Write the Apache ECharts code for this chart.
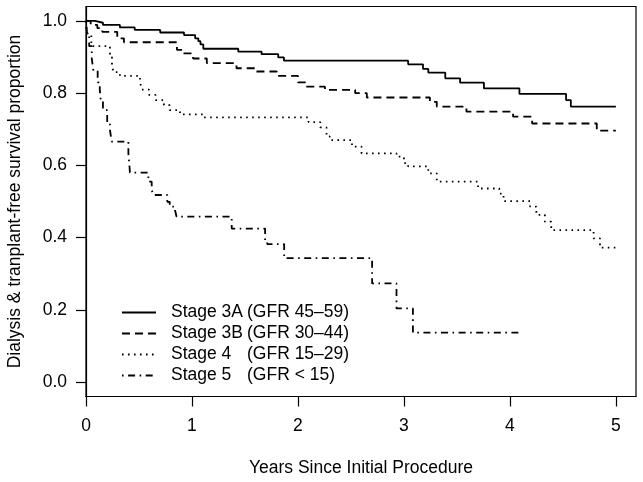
<!DOCTYPE html>
<html>
<head>
<meta charset="utf-8">
<script src="https://cdn.jsdelivr.net/npm/echarts@6/dist/echarts.min.js"></script>
<style>
  html, body { margin: 0; padding: 0; background: #fff; }
  #chart { width: 643px; height: 482px; }
</style>
</head>
<body>
<div id="chart"></div>
<script>
// survival curves: [years, proportion]
const stage3A = [[0,1],[0.085,0.995],[0.16,0.989],[0.32,0.982],[0.46,0.975],[0.70,0.968],[0.925,0.961],[1.03,0.952],[1.06,0.944],[1.08,0.935],[1.107,0.923],[1.437,0.915],[1.657,0.908],[1.814,0.899],[1.868,0.89],[3.04,0.88],[3.18,0.867],[3.23,0.857],[3.39,0.841],[3.53,0.829],[3.755,0.813],[4.09,0.798],[4.53,0.781],[4.575,0.763],[5.0,0.763]];
const stage3B = [[0,1],[0.044,0.989],[0.107,0.98],[0.154,0.97],[0.295,0.952],[0.358,0.941],[0.858,0.92],[0.908,0.91],[1.01,0.896],[1.14,0.883],[1.42,0.869],[1.6,0.86],[1.8,0.848],[2.0,0.83],[2.07,0.818],[2.255,0.809],[2.54,0.80],[2.65,0.788],[3.245,0.776],[3.31,0.763],[3.59,0.749],[4.03,0.735],[4.21,0.716],[4.82,0.696],[5.0,0.696]];
const stage4 = [[0,1],[0.005,0.975],[0.02,0.96],[0.05,0.93],[0.226,0.901],[0.245,0.878],[0.258,0.858],[0.32,0.848],[0.51,0.832],[0.525,0.81],[0.594,0.795],[0.657,0.781],[0.736,0.767],[0.79,0.753],[0.887,0.741],[1.107,0.733],[2.1,0.72],[2.21,0.705],[2.27,0.68],[2.30,0.67],[2.51,0.652],[2.60,0.633],[2.93,0.624],[3.0,0.606],[3.04,0.597],[3.23,0.578],[3.31,0.555],[3.70,0.536],[3.90,0.522],[3.94,0.501],[4.19,0.486],[4.25,0.463],[4.33,0.444],[4.39,0.421],[4.79,0.398],[4.85,0.372],[5.0,0.372]];
const stage5 = [[0,1],[0.01,0.966],[0.03,0.93],[0.054,0.897],[0.07,0.862],[0.11,0.83],[0.13,0.81],[0.139,0.781],[0.16,0.753],[0.2,0.72],[0.226,0.698],[0.242,0.666],[0.40,0.633],[0.415,0.58],[0.588,0.555],[0.62,0.532],[0.635,0.518],[0.767,0.499],[0.79,0.486],[0.84,0.476],[0.855,0.458],[1.375,0.425],[1.69,0.393],[1.71,0.382],[1.87,0.343],[2.70,0.273],[2.93,0.204],[3.085,0.137],[4.08,0.137]];

const stageNames = ["Stage 3A", "Stage 3B", "Stage 4", "Stage 5"];
const gfrLabels = ["(GFR 45\u201359)", "(GFR 30\u201344)", "(GFR 15\u201329)", "(GFR < 15)"];
const xTicks = [0, 1, 2, 3, 4, 5];
const yTicks = [0, 0.2, 0.4, 0.6, 0.8, 1.0];

const FONT = "'Liberation Sans', Arial, Helvetica, sans-serif";
const dashes = ["solid", [8, 5], [1.6, 4.4], [1.6, 4.5, 7, 4.5]];
const curves = [stage3A, stage3B, stage4, stage5];

const chart = echarts.init(document.getElementById("chart"));

const option = {
  animation: false,
  backgroundColor: "#fff",
  textStyle: { fontFamily: FONT, color: "#000" },
  grid: {
    left: 86, top: 6.5, width: 550, height: 390,
    outerBoundsMode: "none", containLabel: false,
    show: true, borderColor: "#000", borderWidth: 1.2, backgroundColor: "transparent"
  },
  legend: {
    orient: "vertical",
    left: 121, top: 302,
    padding: 0, itemGap: 0,
    itemWidth: 34, itemHeight: 12,
    data: stageNames,
    itemStyle: { opacity: 0 },
    formatter: name => "{a|" + name + "}{b|" + gfrLabels[stageNames.indexOf(name)] + "}",
    textStyle: {
      fontFamily: FONT, fontSize: 17.5, color: "#000", lineHeight: 21,
      rich: {
        a: { fontFamily: FONT, fontSize: 17.5, color: "#000", width: 76, padding: [0, 0, 0, 10] },
        b: { fontFamily: FONT, fontSize: 17.5, color: "#000" }
      }
    }
  },
  xAxis: {
    type: "value", min: 0, max: 5.19,
    name: "Years Since Initial Procedure",
    nameLocation: "middle", nameGap: 63,
    nameTextStyle: { fontFamily: FONT, fontSize: 17.5, color: "#000" },
    axisLine: { show: true, onZero: false, lineStyle: { color: "#000", width: 1.2 } },
    axisTick: { show: true, length: 10, customValues: xTicks, lineStyle: { color: "#000", width: 1.2 } },
    axisLabel: {
      customValues: xTicks, margin: 21, fontFamily: FONT, fontSize: 17.5, color: "#000",
      formatter: v => (Number.isInteger(v) ? String(v) : "")
    },
    splitLine: { show: false }
  },
  yAxis: {
    type: "value", min: -0.04, max: 1.04,
    name: "Dialysis & tranplant-free survival proportion",
    nameLocation: "middle", nameGap: 62, nameRotate: 90,
    nameTextStyle: { fontFamily: FONT, fontSize: 17.5, color: "#000" },
    axisLine: { show: true, onZero: false, lineStyle: { color: "#000", width: 1.2 } },
    axisTick: { show: true, length: 10, customValues: yTicks, lineStyle: { color: "#000", width: 1.2 } },
    axisLabel: {
      customValues: yTicks, margin: 19, fontFamily: FONT, fontSize: 17.5, color: "#000",
      formatter: v => v.toFixed(1)
    },
    splitLine: { show: false }
  },
  series: curves.map((d, i) => ({
    name: stageNames[i],
    type: "line",
    step: "end",
    symbol: "none",
    data: d,
    lineStyle: { color: "#000", width: 1.8, type: dashes[i] },
    itemStyle: { color: "#000" }
  }))
};

chart.setOption(option);
</script>
</body>
</html>
